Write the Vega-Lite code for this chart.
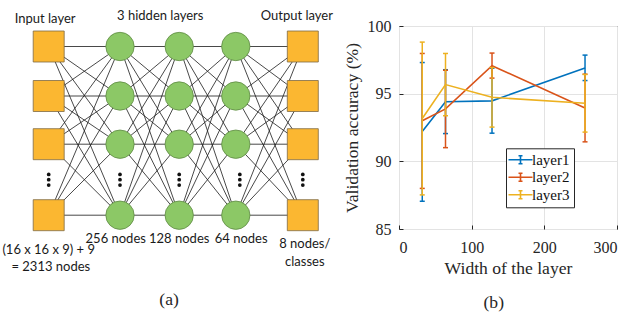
{
  "$schema": "https://vega.github.io/schema/vega-lite/v6.json",
  "autosize": {"type": "none"},
  "width": 218,
  "height": 203,
  "padding": {"left": 399, "top": 26, "right": 15, "bottom": 84},
  "background": "#ffffff",
  "datasets": {
    "acc": [
      {"s": "layer1", "w": 32, "m": 92.2, "lo": 87.05, "hi": 97.3},
      {"s": "layer1", "w": 64, "m": 94.4, "lo": 92.05, "hi": 96.77},
      {"s": "layer1", "w": 128, "m": 94.47, "lo": 92.08, "hi": 96.88},
      {"s": "layer1", "w": 256, "m": 96.9, "lo": 95.97, "hi": 97.85},
      {"s": "layer2", "w": 32, "m": 93.0, "lo": 88.0, "hi": 97.97},
      {"s": "layer2", "w": 64, "m": 93.87, "lo": 91.01, "hi": 96.73},
      {"s": "layer2", "w": 128, "m": 97.07, "lo": 96.15, "hi": 98.0},
      {"s": "layer2", "w": 256, "m": 93.94, "lo": 91.44, "hi": 96.44},
      {"s": "layer3", "w": 32, "m": 93.17, "lo": 87.52, "hi": 98.81},
      {"s": "layer3", "w": 64, "m": 95.67, "lo": 93.37, "hi": 97.97},
      {"s": "layer3", "w": 128, "m": 94.73, "lo": 92.53, "hi": 96.93},
      {"s": "layer3", "w": 256, "m": 94.29, "lo": 92.16, "hi": 96.42}
    ],
    "nodes": [
      {"layer": 0, "row": 0, "kind": "square"}, {"layer": 0, "row": 1, "kind": "square"}, {"layer": 0, "row": 2, "kind": "square"}, {"layer": 0, "row": 4, "kind": "square"},
      {"layer": 1, "row": 0, "kind": "circle"}, {"layer": 1, "row": 1, "kind": "circle"}, {"layer": 1, "row": 2, "kind": "circle"}, {"layer": 1, "row": 4, "kind": "circle"},
      {"layer": 2, "row": 0, "kind": "circle"}, {"layer": 2, "row": 1, "kind": "circle"}, {"layer": 2, "row": 2, "kind": "circle"}, {"layer": 2, "row": 4, "kind": "circle"},
      {"layer": 3, "row": 0, "kind": "circle"}, {"layer": 3, "row": 1, "kind": "circle"}, {"layer": 3, "row": 2, "kind": "circle"}, {"layer": 3, "row": 4, "kind": "circle"},
      {"layer": 4, "row": 0, "kind": "square"}, {"layer": 4, "row": 1, "kind": "square"}, {"layer": 4, "row": 2, "kind": "square"}, {"layer": 4, "row": 4, "kind": "square"}
    ],
    "dots": [
      {"layer": 0, "row": 2.85}, {"layer": 0, "row": 3}, {"layer": 0, "row": 3.15},
      {"layer": 1, "row": 2.85}, {"layer": 1, "row": 3}, {"layer": 1, "row": 3.15},
      {"layer": 2, "row": 2.85}, {"layer": 2, "row": 3}, {"layer": 2, "row": 3.15},
      {"layer": 3.06, "row": 2.85}, {"layer": 3.06, "row": 3}, {"layer": 3.06, "row": 3.15},
      {"layer": 4, "row": 2.85}, {"layer": 4, "row": 3}, {"layer": 4, "row": 3.15}
    ],
    "edges": [
      {"l": 0, "l2": 1, "r": 0, "r2": [0, 1, 2, 4]}, {"l": 0, "l2": 1, "r": 1, "r2": [0, 1, 2, 4]}, {"l": 0, "l2": 1, "r": 2, "r2": [0, 1, 2, 4]}, {"l": 0, "l2": 1, "r": 4, "r2": [0, 1, 2, 4]},
      {"l": 1, "l2": 2, "r": 0, "r2": [0, 1, 2, 4]}, {"l": 1, "l2": 2, "r": 1, "r2": [0, 1, 2, 4]}, {"l": 1, "l2": 2, "r": 2, "r2": [0, 1, 2, 4]}, {"l": 1, "l2": 2, "r": 4, "r2": [0, 1, 2, 4]},
      {"l": 2, "l2": 3, "r": 0, "r2": [0, 1, 2, 4]}, {"l": 2, "l2": 3, "r": 1, "r2": [0, 1, 2, 4]}, {"l": 2, "l2": 3, "r": 2, "r2": [0, 1, 2, 4]}, {"l": 2, "l2": 3, "r": 4, "r2": [0, 1, 2, 4]},
      {"l": 3, "l2": 4, "r": 0, "r2": [0, 1, 2, 4]}, {"l": 3, "l2": 4, "r": 1, "r2": [0, 1, 2, 4]}, {"l": 3, "l2": 4, "r": 2, "r2": [0, 1, 2, 4]}, {"l": 3, "l2": 4, "r": 4, "r2": [0, 1, 2, 4]}
    ],
    "labels": [
      {"t": "Input layer", "layer": -0.05, "row": -0.56, "kind": "label"},
      {"t": "3 hidden layers", "layer": 1.68, "row": -0.62, "kind": "label"},
      {"t": "Output layer", "layer": 3.91, "row": -0.62, "kind": "label"},
      {"t": "256 nodes", "layer": 0.94, "row": 4.67, "kind": "label"},
      {"t": "128 nodes", "layer": 2.0, "row": 4.67, "kind": "label"},
      {"t": "64 nodes", "layer": 3.08, "row": 4.67, "kind": "label"},
      {"t": "8 nodes/", "layer": 4.03, "row": 4.81, "kind": "label"},
      {"t": "classes", "layer": 4.03, "row": 5.32, "kind": "label"},
      {"t": "(16 x 16 x 9) + 9", "layer": 0.0, "row": 4.98, "kind": "label"},
      {"t": "= 2313 nodes", "layer": 0.03, "row": 5.46, "kind": "label"},
      {"t": "(a)", "layer": 1.83, "row": 6.39, "kind": "caption"},
      {"t": "(b)", "layer": 6.85, "row": 6.47, "kind": "caption"}
    ]
  },
  "resolve": {"scale": {"x": "independent", "y": "independent"}},
  "layer": [
    {
      "layer": [
        {
          "data": {"name": "edges"},
          "transform": [{"flatten": ["r2"]}],
          "mark": {"type": "rule", "color": "#1a1a1a", "strokeWidth": 0.8},
          "encoding": {
            "x": {"field": "l", "type": "quantitative", "scale": {"domain": [0, 1, 2, 3, 4], "range": [-350.3, -279, -219.8, -163.2, -96.2], "nice": false, "zero": false}, "axis": null},
            "x2": {"field": "l2"},
            "y": {"field": "r", "type": "quantitative", "scale": {"domain": [0, 1, 2, 4], "range": [20.5, 70, 118.2, 189.2], "nice": false, "zero": false}, "axis": null},
            "y2": {"field": "r2"}
          }
        },
        {
          "data": {"name": "nodes"},
          "transform": [{"filter": "datum.kind === 'square'"}],
          "mark": {"type": "point", "shape": "square", "filled": true, "size": 961, "fill": "#FBB731", "stroke": "#7d6a45", "strokeWidth": 0.8, "opacity": 1},
          "encoding": {
            "x": {"field": "layer", "type": "quantitative", "axis": null},
            "y": {"field": "row", "type": "quantitative", "axis": null}
          }
        },
        {
          "data": {"name": "nodes"},
          "transform": [{"filter": "datum.kind === 'circle'"}],
          "mark": {"type": "point", "shape": "circle", "filled": true, "size": 804, "fill": "#8CC866", "stroke": "#5f8a45", "strokeWidth": 0.8, "opacity": 1},
          "encoding": {
            "x": {"field": "layer", "type": "quantitative", "axis": null},
            "y": {"field": "row", "type": "quantitative", "axis": null}
          }
        },
        {
          "data": {"name": "dots"},
          "mark": {"type": "point", "shape": "circle", "filled": true, "size": 14, "fill": "#111111", "opacity": 1},
          "encoding": {
            "x": {"field": "layer", "type": "quantitative", "axis": null},
            "y": {"field": "row", "type": "quantitative", "axis": null}
          }
        },
        {
          "data": {"name": "labels"},
          "transform": [{"filter": "datum.kind === 'label'"}],
          "mark": {"type": "text", "font": "Lato", "fontSize": 13, "color": "#1a1a1a", "align": "center", "baseline": "middle"},
          "encoding": {
            "x": {"field": "layer", "type": "quantitative", "axis": null},
            "y": {"field": "row", "type": "quantitative", "axis": null},
            "text": {"field": "t"}
          }
        },
        {
          "data": {"name": "labels"},
          "transform": [{"filter": "datum.kind === 'caption'"}],
          "mark": {"type": "text", "font": "Liberation Serif", "fontSize": 17.6, "color": "#262626", "align": "center", "baseline": "middle"},
          "encoding": {
            "x": {"field": "layer", "type": "quantitative", "axis": null},
            "y": {"field": "row", "type": "quantitative", "axis": null},
            "text": {"field": "t"}
          }
        }
      ]
    },
    {
      "data": {"name": "acc"},
      "encoding": {
        "x": {"field": "w", "type": "quantitative", "scale": {"domain": [0, 300], "nice": false, "zero": false}, "axis": {"orient": "bottom", "values": [0, 100, 200, 300], "title": "Width of the layer", "grid": true, "labelPadding": 14, "titlePadding": 4, "labelFont": "Liberation Serif"}},
        "y": {"field": "m", "type": "quantitative", "scale": {"domain": [85, 100], "nice": false, "zero": false}, "axis": {"orient": "left", "values": [85, 90, 95, 100], "title": "Validation accuracy (%)", "grid": true, "labelPadding": 12, "titlePadding": 6, "labelFont": "Liberation Serif"}},
        "color": {"field": "s", "type": "nominal", "scale": {"domain": ["layer1", "layer2", "layer3"], "range": ["#0072BD", "#D95319", "#EDB120"]},
          "legend": {"orient": "none", "legendX": 107, "legendY": 122.3, "title": null, "padding": 4, "strokeColor": "#262626", "fillColor": "#ffffff", "symbolType": "M-1.8,0H3M0.6,-0.8V0.8M0.2,-0.8H1M0.2,0.8H1", "symbolSize": 100, "symbolStrokeWidth": 1.6, "labelFont": "Liberation Serif", "labelFontSize": 15, "labelColor": "#111111", "labelOffset": 7, "rowPadding": 1.5}}
      },
      "layer": [
        {
          "transform": [{"filter": "datum.s === 'layer1'"}],
          "layer": [
            {"mark": {"type": "rule", "strokeWidth": 1.5}, "encoding": {"y": {"field": "lo", "type": "quantitative"}, "y2": {"field": "hi"}}},
            {"mark": {"type": "tick", "orient": "horizontal", "size": 5, "thickness": 1.5, "opacity": 1}, "encoding": {"y": {"field": "lo", "type": "quantitative"}}},
            {"mark": {"type": "tick", "orient": "horizontal", "size": 5, "thickness": 1.5, "opacity": 1}, "encoding": {"y": {"field": "hi", "type": "quantitative"}}},
            {"mark": {"type": "line", "strokeWidth": 1.6}}
          ]
        },
        {
          "transform": [{"filter": "datum.s === 'layer2'"}],
          "layer": [
            {"mark": {"type": "rule", "strokeWidth": 1.5}, "encoding": {"y": {"field": "lo", "type": "quantitative"}, "y2": {"field": "hi"}}},
            {"mark": {"type": "tick", "orient": "horizontal", "size": 5, "thickness": 1.5, "opacity": 1}, "encoding": {"y": {"field": "lo", "type": "quantitative"}}},
            {"mark": {"type": "tick", "orient": "horizontal", "size": 5, "thickness": 1.5, "opacity": 1}, "encoding": {"y": {"field": "hi", "type": "quantitative"}}},
            {"mark": {"type": "line", "strokeWidth": 1.6}}
          ]
        },
        {
          "transform": [{"filter": "datum.s === 'layer3'"}],
          "layer": [
            {"mark": {"type": "rule", "strokeWidth": 1.5}, "encoding": {"y": {"field": "lo", "type": "quantitative"}, "y2": {"field": "hi"}}},
            {"mark": {"type": "tick", "orient": "horizontal", "size": 5, "thickness": 1.5, "opacity": 1}, "encoding": {"y": {"field": "lo", "type": "quantitative"}}},
            {"mark": {"type": "tick", "orient": "horizontal", "size": 5, "thickness": 1.5, "opacity": 1}, "encoding": {"y": {"field": "hi", "type": "quantitative"}}},
            {"mark": {"type": "line", "strokeWidth": 1.6}}
          ]
        }
      ]
    }
  ],
  "config": {
    "font": "Liberation Serif",
    "style": {"guide-label": {"font": "Liberation Serif"}, "guide-title": {"font": "Liberation Serif"}},
    "view": {"stroke": "#262626", "strokeWidth": 1},
    "legend": {"labelFont": "Liberation Serif"},
    "axis": {"labelFont": "Liberation Serif", "titleFont": "Liberation Serif", "labelFontSize": 16, "titleFontSize": 17.6, "titleFontWeight": "normal", "labelColor": "#262626", "titleColor": "#262626", "gridColor": "#e3e3e3", "gridWidth": 1, "domain": false, "tickColor": "#262626", "tickSize": -4, "tickWidth": 1}
  }
}
